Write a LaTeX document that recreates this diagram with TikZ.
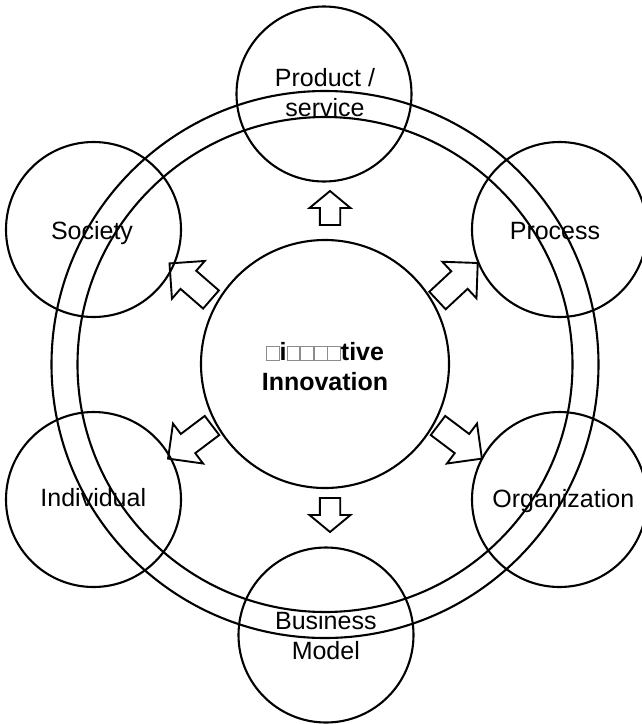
\documentclass[tikz,border=0pt]{standalone}
\usepackage{fontspec}
\setmainfont{Liberation Sans}
\usepackage{xcolor}
% empty placeholder box standing for a glyph the font could not show
\newcommand\tofu{{\color{black!45}\setlength\fboxsep{0pt}\setlength\fboxrule{0.8pt}\fbox{\rule{0pt}{13.8pt}\hspace{12pt}}}}
\tikzset{
  ring/.style={draw, circle, line width=2.1pt, inner sep=0pt, minimum size=#1},
  labeltext/.style={align=center, inner sep=0pt, font=\fontsize{25}{30}\selectfont},
  arrowline/.style={draw, line width=1.9pt, line join=miter},
  % block arrow along +x: #1 length, #2 shaft half-width, #3 head half-width, #4 head length
  pics/blockarrow/.style n args={4}{
    code={\draw[arrowline] (0,{-#2}) -- ({#1-#4},{-#2}) -- ({#1-#4},{-#3}) -- (#1,0)
          -- ({#1-#4},{#3}) -- ({#1-#4},{#2}) -- (0,{#2}) -- cycle;}
  }
}
\begin{document}
\begin{tikzpicture}[x=1pt,y=-1pt]
\useasboundingbox (0,0) rectangle (641,724);

% double ring
\node[ring=547pt] (outerring) at (325,364.5) {};
\node[ring=495pt] (innerring) at (325,364.5) {};

% core
\node[ring=248pt] (core) at (325,364) {};
\node[labeltext, font=\fontsize{25}{30}\selectfont\bfseries] (coretext) at (325,366.5)
  {\tofu i\tofu\tofu\tofu\tofu tive\\Innovation};

% six areas
\node[ring=175pt] (product) at (324,94) {};
\node[ring=175pt] (process) at (559.5,229.5) {};
\node[ring=175pt] (organization) at (559.5,499.5) {};
\node[ring=175pt] (business) at (326,635) {};
\node[ring=175pt] (individual) at (93.5,499.5) {};
\node[ring=175pt] (society) at (93.5,229.5) {};

\node[labeltext] (producttext) at (325,92.5) {Product /\\service};
\node[labeltext, anchor=base] (processtext) at (555,239.3) {Process};
\node[labeltext, anchor=base] (organizationtext) at (563.3,507.3) {Organization};
\node[labeltext] (businesstext) at (325.8,635.5) {Business\\Model};
\node[labeltext, anchor=base] (individualtext) at (93.3,506.7) {Individual};
\node[labeltext, anchor=base] (societytext) at (92,239.3) {Society};

% outward arrows
\pic (uparrow) [rotate=90] at (330,225) {blockarrow={34}{10.2}{20.5}{17}};
\pic (downarrow) [rotate=-90] at (330,498) {blockarrow={34}{10.2}{20.5}{17}};
\pic (processarrow) [rotate=43] at (437.5,300.5) {blockarrow={55}{12}{25}{25}};
\pic (societyarrow) [rotate=139] at (211,299.5) {blockarrow={55}{12}{25}{25}};
\pic (organizationarrow) [rotate=-37] at (438,425.5) {blockarrow={55}{12}{25}{25}};
\pic (individualarrow) [rotate=217] at (212,425.5) {blockarrow={55}{12}{25}{25}};
\end{tikzpicture}
\end{document}
